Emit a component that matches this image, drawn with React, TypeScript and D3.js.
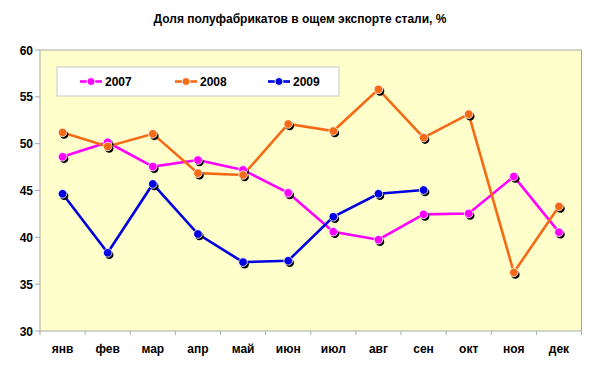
import React from "react";
import * as d3 from "d3";

const months = ["янв", "фев", "мар", "апр", "май", "июн", "июл", "авг", "сен", "окт", "ноя", "дек"];
const s2007 = [48.6, 50.15, 47.55, 48.25, 47.2, 44.75, 40.6, 39.75, 42.45, 42.55, 46.5, 40.55];
const s2008 = [51.2, 49.7, 51.05, 46.85, 46.65, 52.1, 51.35, 55.8, 50.65, 53.15, 36.25, 43.3];
const s2009 = [44.65, 38.35, 45.7, 40.35, 37.35, 37.5, 42.2, 44.65, 45.05];
const yTicks = [30, 35, 40, 45, 50, 55, 60];
const seriesNames = ["2007", "2008", "2009"];
const seriesColors = ["#FF00FF", "#F56A16", "#0000E0"];

const W = 600, H = 369;
const left = 40, right = 581.5, top = 50, bottom = 331;

export default function App() {
  const x = d3.scaleBand<string>().domain(months).range([left, right]);
  const y = d3.scaleLinear().domain([30, 60]).range([bottom, top]);
  const allSeries = [s2007, s2008, s2009];
  const line = d3
    .line<number>()
    .x((_, i) => (x(months[i]) as number) + x.bandwidth() / 2)
    .y((d) => y(d));
  const font = "Arial, 'Liberation Sans', sans-serif";
  const legendX = [80, 175, 268];
  return (
    <svg width={W} height={H} style={{ position: "absolute", left: 0, top: 0 }} fontFamily={font}>
      <rect x={0} y={0} width={W} height={H} fill="#fff" />
      <text x={300} y={23} textAnchor="middle" fontSize={12} fontWeight="bold">
        Доля полуфабрикатов в ощем экспорте стали, %
      </text>
      <rect x={left} y={top} width={right - left} height={bottom - top} fill="#FFFFCC" stroke="#A8A8A8" strokeWidth={1} />
      {yTicks.map((t) => (
        <g key={t}>
          <line x1={left - 5} x2={left} y1={y(t)} y2={y(t)} stroke="#A8A8A8" />
          <text x={33} y={y(t) + 4.5} textAnchor="end" fontSize={12} fontWeight="bold">
            {t}
          </text>
        </g>
      ))}
      {d3.range(months.length + 1).map((i) => {
        const xx = left + i * x.step();
        return <line key={i} x1={xx} x2={xx} y1={bottom} y2={bottom + 4} stroke="#A8A8A8" />;
      })}
      {months.map((m) => (
        <text key={m} x={(x(m) as number) + x.bandwidth() / 2} y={353} textAnchor="middle" fontSize={12} fontWeight="bold">
          {m}
        </text>
      ))}
      {allSeries.map((s, si) => (
        <path key={si} d={line(s) || ""} fill="none" stroke={seriesColors[si]} strokeWidth={2.6} />
      ))}
      {allSeries.map((s, si) =>
        s.map((v, i) => {
          const cx = (x(months[i]) as number) + x.bandwidth() / 2;
          const cy = y(v);
          return (
            <g key={si + "-" + i}>
              <circle cx={cx + 1.5} cy={cy + 2} r={4.3} fill="#000" />
              <circle cx={cx} cy={cy} r={4.3} fill={seriesColors[si]} stroke="#fff" strokeWidth={0.8} />
            </g>
          );
        })
      )}
      <rect x={57} y={67} width={282} height={29} fill="#fff" stroke="#C8C8C8" />
      {seriesNames.map((n, i) => (
        <g key={n}>
          <line x1={legendX[i]} x2={legendX[i] + 22} y1={81.5} y2={81.5} stroke={seriesColors[i]} strokeWidth={2.6} />
          <circle cx={legendX[i] + 11} cy={81.5} r={4} fill={seriesColors[i]} stroke="#fff" strokeWidth={1} />
          <text x={legendX[i] + 25} y={86} fontSize={12} fontWeight="bold">
            {n}
          </text>
        </g>
      ))}
    </svg>
  );
}
